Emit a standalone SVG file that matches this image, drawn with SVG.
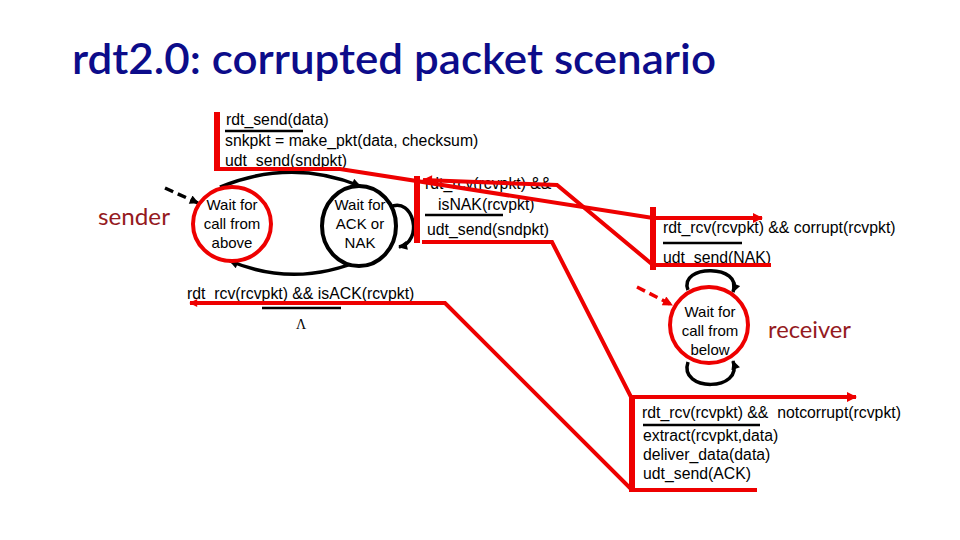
<svg xmlns="http://www.w3.org/2000/svg" width="960" height="540" viewBox="0 0 960 540">
<defs>
<style>
.t{font-family:"Liberation Sans",Arial,sans-serif;font-size:15.8px;fill:#000}
.st{font-family:"Liberation Sans",Arial,sans-serif;font-size:15px;fill:#000;text-anchor:middle}
.title{font-family:Lato,"Open Sans",sans-serif;font-size:43px;fill:#0c0c8a;font-weight:600}
.role{font-family:Lato,"Open Sans",sans-serif;font-size:23px;fill:#951a1e}
.ul{stroke:#000;stroke-width:2.5}
.arc{fill:none;stroke:#000;stroke-width:3.5}
.red{fill:none;stroke:#ee0000;stroke-width:4;stroke-linejoin:miter}
.bar{stroke:#ee0000;stroke-width:6}
.redstate{fill:#fff;stroke:#ee0000;stroke-width:4}
.blkstate{fill:#fff;stroke:#000;stroke-width:4}
</style>
<marker id="ahk" viewBox="0 0 10 10" refX="9" refY="5" markerWidth="11" markerHeight="9" markerUnits="userSpaceOnUse" orient="auto"><path d="M0,0 L10,5 L0,10 z" fill="#000"/></marker>
<marker id="ahr" viewBox="0 0 10 10" refX="9" refY="5" markerWidth="13" markerHeight="10" markerUnits="userSpaceOnUse" orient="auto"><path d="M0,0 L10,5 L0,10 z" fill="#ee0000"/></marker>
<marker id="ahrs" viewBox="0 0 10 10" refX="9" refY="5" markerWidth="10" markerHeight="8" markerUnits="userSpaceOnUse" orient="auto"><path d="M0,0 L10,5 L0,10 z" fill="#ee0000"/></marker>
</defs>
<rect width="960" height="540" fill="#fff"/>

<text class="title" x="72" y="74" textLength="644" lengthAdjust="spacingAndGlyphs">rdt2.0: corrupted packet scenario</text>
<text class="role" x="98" y="225" textLength="72" lengthAdjust="spacingAndGlyphs">sender</text>
<text class="role" x="768" y="338" textLength="83" lengthAdjust="spacingAndGlyphs">receiver</text>

<g id="connectors">
  <path class="arc" d="M220,187 Q291,158 360,186" marker-end="url(#ahk)"/>
  <path class="arc" d="M366,258 Q297,289 230,261" marker-end="url(#ahk)"/>
  <path class="arc" d="M390,207 C414,196 424,242 399,247" marker-end="url(#ahk)"/>
  <path class="arc" d="M165,188 L198,203" stroke-dasharray="9,5" marker-end="url(#ahk)"/>
  <path class="arc" d="M688,290 C678,264 744,264 733,292" marker-end="url(#ahk)"/>
  <path class="arc" d="M688,362 C678,392 744,392 733,361" marker-end="url(#ahk)"/>
  <path d="M637,287 L672,305" fill="none" stroke="#ee0000" stroke-width="3.5" stroke-dasharray="9,5" marker-end="url(#ahr)"/>
</g>

<g id="state-wait-call-above">
  <ellipse class="redstate" cx="232" cy="224" rx="39" ry="37"/>
  <text class="st" x="232" y="210">Wait for</text>
  <text class="st" x="232" y="229">call from</text>
  <text class="st" x="232" y="248">above</text>
</g>
<g id="state-wait-ack-nak">
  <ellipse class="blkstate" cx="359" cy="226" rx="37" ry="40"/>
  <text class="st" x="360" y="210">Wait for</text>
  <text class="st" x="360" y="229">ACK or</text>
  <text class="st" x="360" y="248">NAK</text>
</g>
<g id="state-wait-call-below">
  <ellipse class="redstate" cx="709" cy="325" rx="39" ry="38"/>
  <text class="st" x="710" y="317">Wait for</text>
  <text class="st" x="710" y="336">call from</text>
  <text class="st" x="710" y="355">below</text>
</g>

<g id="labels">
  <text class="t" x="226" y="125">rdt_send(data)</text>
  <line class="ul" x1="225" y1="131" x2="303" y2="131"/>
  <text class="t" x="225" y="145.5">snkpkt = make_pkt(data, checksum)</text>
  <text class="t" x="225" y="166">udt_send(sndpkt)</text>

  <text class="t" x="425" y="188.5">rdt_rcv(rcvpkt) &amp;&amp;</text>
  <text class="t" x="438" y="209.5">isNAK(rcvpkt)</text>
  <line class="ul" x1="425" y1="215" x2="503" y2="215"/>
  <text class="t" x="427" y="235">udt_send(sndpkt)</text>

  <text class="t" x="187" y="299">rdt_rcv(rcvpkt) &amp;&amp; isACK(rcvpkt)</text>
  <line class="ul" x1="262" y1="308" x2="341" y2="308"/>
  <text x="301" y="329" style="font-family:'Liberation Serif',serif;font-size:14px;text-anchor:middle">Λ</text>

  <text class="t" x="663" y="233">rdt_rcv(rcvpkt) &amp;&amp; corrupt(rcvpkt)</text>
  <line class="ul" x1="663" y1="243" x2="742" y2="243"/>
  <text class="t" x="663" y="263">udt_send(NAK)</text>

  <text class="t" x="642" y="418" xml:space="preserve">rdt_rcv(rcvpkt) &amp;&amp;  notcorrupt(rcvpkt)</text>
  <line class="ul" x1="643" y1="425" x2="760" y2="425"/>
  <text class="t" x="643" y="441">extract(rcvpkt,data)</text>
  <text class="t" x="643" y="460">deliver_data(data)</text>
  <text class="t" x="643" y="479">udt_send(ACK)</text>
</g>

<g id="scenario-trace">
  <line class="bar" x1="217" y1="112" x2="217" y2="171"/>
  <polyline class="red" points="217,169 340,169 653,218 762,218" marker-end="url(#ahr)"/>
  <line class="bar" x1="653" y1="207" x2="653" y2="270"/>
  <polyline class="red" points="771,265 653,265 557,185 423,180" marker-end="url(#ahr)"/>
  <line class="bar" x1="417" y1="176" x2="417" y2="243"/>
  <polyline class="red" points="422,242 552,242 631,397 856,397" marker-end="url(#ahr)"/>
  <line class="bar" x1="632" y1="395" x2="632" y2="492"/>
  <polyline class="red" points="757,490 632,490 445,303 190,303" marker-end="url(#ahrs)"/>
</g>
</svg>
